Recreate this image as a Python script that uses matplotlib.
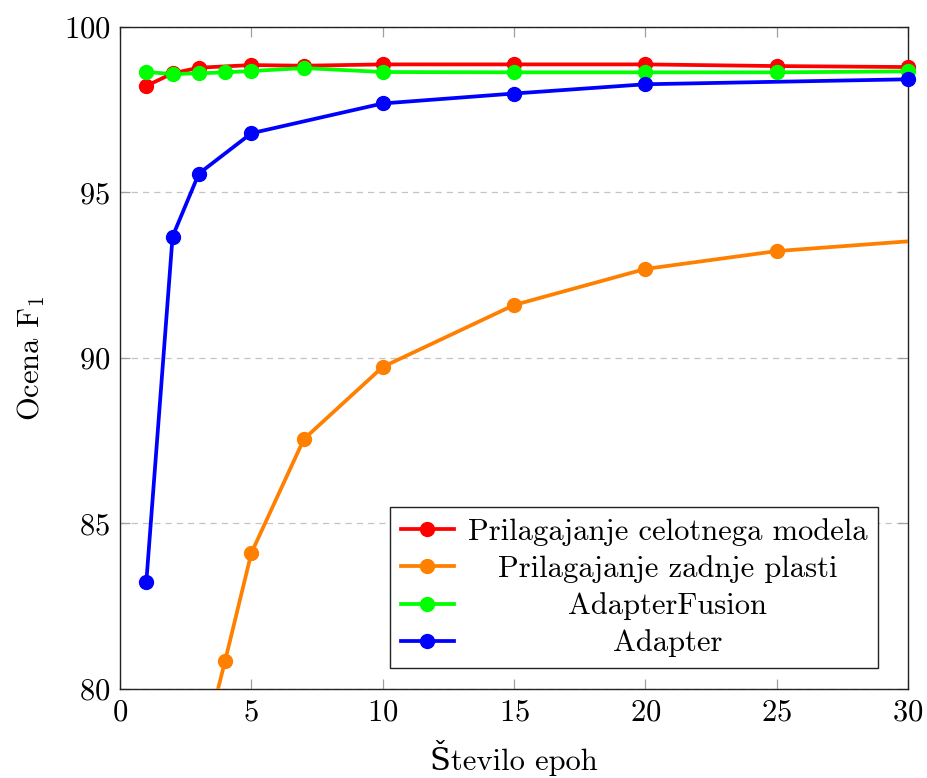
import matplotlib
matplotlib.use("Agg")
import matplotlib.pyplot as plt

plt.rcParams['font.family'] = ['cmr10', 'DejaVu Serif']
plt.rcParams['mathtext.fontset'] = 'cm'
plt.rcParams['axes.formatter.use_mathtext'] = True

# podatki
epochs_full = [1, 2, 3, 5, 7, 10, 15, 20, 25, 30]
f1_full = [98.22, 98.60, 98.77, 98.85, 98.83, 98.87, 98.87, 98.87, 98.82, 98.79]

epochs_last = [1, 2, 3, 4, 5, 7, 10, 15, 20, 25, 50]
f1_last = [70.5, 74.5, 77.7, 80.85, 84.11, 87.55, 89.73, 91.60, 92.69, 93.23, 94.7]

epochs_fusion = [1, 2, 3, 4, 5, 7, 10, 15, 20, 25, 30]
f1_fusion = [98.64, 98.58, 98.60, 98.63, 98.67, 98.76, 98.64, 98.63, 98.63, 98.63, 98.66]

epochs_adapter = [1, 2, 3, 5, 10, 15, 20, 30]
f1_adapter = [83.23, 93.67, 95.57, 96.79, 97.69, 97.99, 98.27, 98.42]

series = [
    ("Prilagajanje celotnega modela", epochs_full, f1_full, (1, 0, 0)),
    ("Prilagajanje zadnje plasti", epochs_last, f1_last, (1, 0.5, 0)),
    ("AdapterFusion", epochs_fusion, f1_fusion, (0, 1, 0)),
    ("Adapter", epochs_adapter, f1_adapter, (0, 0, 1)),
]

xmin, xmax, ymin, ymax = 0, 30, 80, 100
fs = 22

fig = plt.figure(figsize=(9.27, 7.78), dpi=100)
ax = fig.add_axes([0.1295, 0.1144, 0.85, 0.8509])

handles = []
for name, xs, ys, col in series:
    ax.plot(xs, ys, color=col, lw=2.7, zorder=3)
    inside = [(x, y) for x, y in zip(xs, ys) if xmin <= x <= xmax and ymin <= y <= ymax]
    ax.plot([p[0] for p in inside], [p[1] for p in inside], ls='none', marker='o',
            ms=10, color=col, clip_on=False, zorder=4)
    h, = ax.plot([], [], color=col, lw=2.7, marker='o', ms=10, label=name)
    handles.append(h)

ax.set_xlim(xmin, xmax)
ax.set_ylim(ymin, ymax)
ax.set_xticks([0, 5, 10, 15, 20, 25, 30])
ax.set_yticks([80, 85, 90, 95, 100])
ax.grid(axis='y', color='#c4c4c4', ls=(0, (5, 4)), lw=0.9, zorder=0)
ax.tick_params(direction='in', length=7, width=0.9, color='#a0a0a0',
               top=True, right=True, labelsize=fs, pad=7)
for s in ax.spines.values():
    s.set_linewidth(1.0)
    s.set_color('#222222')

ax.set_xlabel('Število epoh', fontsize=fs, labelpad=10)
ax.set_ylabel(r'Ocena $\mathrm{F}_1$', fontsize=fs, labelpad=12)

leg = ax.legend(handles=handles, loc='lower right', bbox_to_anchor=(0.962, 0.0317),
                borderaxespad=0, fontsize=fs, fancybox=False, framealpha=1,
                edgecolor='#222222', handlelength=1.75, labelspacing=0.3,
                borderpad=0.35, handletextpad=0.45)
leg.get_frame().set_linewidth(1.0)

# centriranje besedila v legendi
fig.canvas.draw()
texts = leg.get_texts()
boxes = [t.get_window_extent() for t in texts]
x0 = min(b.x0 for b in boxes)
x1 = max(b.x1 for b in boxes)
xc = (x0 + x1) / 2
inv = fig.transFigure.inverted()
for t, b in zip(texts, boxes):
    fx, fy = inv.transform((xc, (b.y0 + b.y1) / 2))
    fig.text(fx, fy, t.get_text(), ha='center', va='center', fontsize=fs, zorder=10)
    t.set_alpha(0)

fig.savefig("out.png", dpi=100)
